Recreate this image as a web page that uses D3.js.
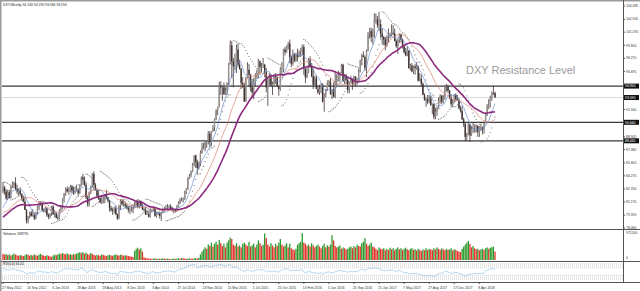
<!DOCTYPE html>
<html>
<head>
<meta charset="utf-8">
<script src="https://cdn.jsdelivr.net/npm/d3@7"></script>
<style>
  body { margin: 0; background: #fff; }
  svg { display: block; }
  text { font-family: "Liberation Sans", Arial, sans-serif; }
</style>
</head>
<body>
<svg id="chart" width="640" height="291"></svg>
<script>
// closes before the first visible bar, only used to warm up the averages / RSI
var preCloses = [78.8,77.2,77.1,75.7,76.9,77.3,77.9,79.5,78.2,78.6,80.0,79.9,80.2,81.0,81.5,80.5,79.6,79.0,79.0,79.3,78.4,79.6,79.6,80.2,79.3,78.9,79.8,79.6,79.3,78.9,79.2,80.3,81.4,82.4];

// weekly bars from 27 May 2012
var opens = [
  82.4,82.9,82.4,81.6,82.3,81.6,83.0,83.2,83.4,82.7,82.4,82.5,82.1,81.6,81.2,80.2,78.9,79.4,79.9,79.5,79.6,79.2,79.9,80.6,81.0,81.0,80.2,80.1,80.4,79.6,79.4,79.8,
  80.6,79.7,79.8,79.3,79.2,80.2,80.4,81.5,82.2,82.7,82.4,82.5,83.0,82.5,82.3,82.5,82.6,82.2,83.2,84.1,83.8,83.2,81.7,80.9,82.3,83.1,84.5,83.2,82.6,81.9,81.6,81.1,81.4,81.4,82.1,81.7,81.3,80.4,80.2,80.1,80.4,79.7,79.2,80.7,81.3,80.9,80.9,80.7,80.4,80.2,80.2,80.2,
  80.6,80.7,81.2,80.6,81.3,80.7,80.3,80.2,79.7,79.7,79.4,80.1,80.2,80.4,79.5,79.8,79.8,79.5,79.9,80.1,80.4,80.4,80.5,80.6,80.4,80.2,80.2,80.1,80.6,81.0,81.4,81.4,81.5,82.3,82.7,84.0,84.3,84.8,85.6,86.7,85.9,85.2,85.8,87.0,87.6,87.6,88.3,88.4,89.3,88.3,89.6,90.0,
  91.0,92.1,92.5,95.0,94.8,94.8,94.0,94.4,95.3,97.6,99.8,97.9,97.3,97.4,99.3,97.5,97.0,95.3,94.8,93.1,96.0,96.9,96.3,94.8,94.2,95.4,96.0,96.1,97.9,97.2,97.4,97.5,96.6,94.8,95.8,96.2,95.0,95.2,96.2,96.0,94.9,94.6,96.9,96.9,99.3,99.0,99.6,100.0,98.4,97.6,98.7,98.0,
  98.7,98.4,99.0,99.5,99.6,97.0,96.0,96.6,98.1,97.3,96.1,95.1,95.9,94.6,94.2,94.6,95.1,93.1,93.9,94.6,95.3,95.5,94.0,94.5,93.7,95.6,95.6,96.2,96.6,97.5,95.5,96.2,95.7,94.5,95.5,95.8,95.2,96.1,95.5,95.4,96.6,98.0,98.6,98.4,97.1,99.1,101.2,101.5,100.8,101.5,102.9,102.9,
  102.2,102.3,101.2,100.8,100.5,99.8,100.8,100.9,101.1,101.3,101.2,100.3,99.7,100.4,101.1,100.5,99.7,99.0,98.6,99.2,97.1,97.4,96.7,97.3,97.1,97.3,95.6,95.8,95.2,93.9,93.3,93.4,93.1,93.5,92.7,92.8,91.3,91.9,92.2,93.1,93.8,93.1,93.7,94.9,94.9,94.4,93.6,92.8,93.0,93.9,93.4,93.3,92.3,
  92.0,91.0,90.5,88.9,89.2,90.4,89.1,89.9,90.0,90.1,90.2,89.5,90.1,90.1,89.8,90.5,91.5,92.6,92.6,93.7,94.2,94.13
];
var highs = [
  83.5,83.1,82.7,82.6,82.6,83.2,83.6,83.6,84.1,83.2,82.8,82.9,82.2,81.9,81.8,80.3,79.5,80.0,80.1,80.3,79.9,80.0,80.7,81.2,81.2,81.1,80.4,80.6,80.5,79.8,79.8,80.7,
  80.8,80.2,80.0,79.6,80.3,80.8,81.6,82.2,82.9,83.0,82.9,83.2,83.2,83.0,83.0,83.2,82.8,83.2,84.2,84.5,84.2,83.5,81.9,82.4,83.1,84.6,84.8,83.4,82.7,82.6,81.7,82.0,81.9,82.1,82.6,81.8,81.4,80.7,80.5,80.6,80.7,79.8,80.8,81.5,81.5,81.4,81.2,81.0,80.7,80.7,80.6,80.9,
  81.2,81.4,81.5,81.4,81.3,81.0,80.5,80.6,80.2,80.1,80.4,80.3,80.6,80.5,80.0,80.0,80.0,80.0,80.4,80.5,80.8,80.9,80.8,80.9,80.6,80.4,80.3,80.8,81.2,81.6,81.7,81.7,82.5,82.8,84.1,84.5,84.9,85.8,86.7,86.8,86.2,86.0,87.3,88.2,88.2,88.4,88.4,89.6,89.6,89.6,90.3,91.1,
  92.2,92.5,95.5,95.5,94.9,95.4,94.8,95.4,97.7,100.4,100.3,98.3,98.8,99.9,100.0,98.1,97.1,96.0,95.3,96.0,97.8,97.6,96.4,95.8,95.9,96.5,96.9,98.2,98.0,97.7,98.3,97.6,97.1,96.0,96.5,96.4,95.5,96.4,96.5,96.1,95.0,97.2,97.8,99.4,99.6,99.8,100.2,100.5,98.6,99.3,98.9,98.9,
  99.4,99.2,99.5,99.9,99.9,97.1,97.3,98.3,98.5,97.7,97.1,96.2,96.2,95.0,95.1,95.3,95.3,94.1,94.6,95.5,95.7,95.9,94.6,95.4,96.7,96.4,96.8,96.6,97.6,97.6,96.4,96.4,96.1,95.5,96.2,95.9,96.2,96.1,95.9,97.0,98.1,98.8,99.1,98.6,99.3,101.4,101.9,101.9,101.8,103.6,103.6,103.3,
  103.8,102.9,101.8,100.9,100.8,101.0,101.8,101.3,102.3,102.2,101.8,100.5,100.6,101.2,101.2,100.6,99.8,99.5,99.7,99.2,97.6,97.7,97.4,97.6,97.8,97.4,96.5,96.3,95.4,94.1,93.6,93.9,93.9,93.8,92.9,92.9,92.4,92.5,93.6,94.0,93.9,93.9,95.0,95.2,95.1,94.5,94.0,93.4,94.0,94.1,93.9,93.5,92.6,
  92.6,91.2,90.5,89.4,90.6,90.4,90.2,90.6,90.4,90.4,90.3,90.2,90.5,90.1,90.6,91.8,92.8,93.4,93.8,94.3,95.0,94.29
];
var lows = [
  82.2,82.0,81.4,81.4,81.6,81.6,82.8,82.8,82.6,82.1,81.9,82.0,81.3,81.1,80.2,78.6,78.6,79.2,79.4,79.4,79.0,79.1,79.7,80.2,80.7,80.0,79.9,79.9,79.4,79.1,79.2,79.5,
  79.6,79.3,79.2,79.0,79.1,80.0,80.3,81.1,81.9,82.3,82.0,82.3,82.2,82.0,82.1,82.4,81.8,82.1,83.0,83.2,83.1,81.5,80.6,80.6,82.1,82.9,82.5,82.5,81.6,81.4,81.0,80.9,81.0,81.0,81.5,81.1,80.0,80.0,79.6,79.8,79.6,79.0,79.1,80.2,80.7,80.6,80.4,80.3,79.9,79.7,80.0,79.8,
  80.4,80.6,80.4,80.4,80.6,80.2,80.0,79.6,79.6,79.3,79.3,79.9,80.1,79.4,79.3,79.6,79.2,78.9,79.8,80.0,80.3,80.2,80.4,80.2,80.0,79.8,79.9,80.0,80.5,80.9,81.2,81.1,81.4,82.1,82.6,83.9,84.1,84.7,85.4,85.2,84.5,85.0,85.4,86.9,87.4,87.2,87.6,88.0,87.6,87.8,89.5,89.6,
  90.9,91.5,92.4,93.9,93.2,93.9,93.9,93.9,95.1,97.5,95.9,94.8,96.9,96.5,97.2,96.9,94.6,94.8,93.1,93.1,95.9,94.9,94.3,93.5,93.4,94.9,95.8,95.9,96.3,96.6,97.1,96.0,94.2,92.6,95.1,94.9,93.9,95.0,95.2,94.9,93.8,94.4,96.2,96.6,98.6,98.9,99.3,97.7,97.2,97.4,97.8,97.8,
  97.9,98.4,98.4,98.6,96.3,95.3,95.9,96.5,97.1,96.0,94.6,95.0,94.6,94.0,93.9,94.1,93.0,91.9,93.6,94.4,94.9,93.9,93.4,93.6,93.5,95.0,95.5,95.4,96.5,95.5,95.2,95.2,94.1,94.1,95.3,94.5,95.0,94.9,95.1,95.4,96.6,97.4,98.4,96.8,96.0,99.1,100.6,100.2,99.9,100.7,102.4,101.9,
  101.5,100.7,99.9,99.8,99.2,99.6,100.1,100.6,100.9,101.0,100.3,99.5,98.8,100.1,100.1,99.4,98.8,98.5,98.5,97.0,96.8,96.6,96.4,96.3,96.9,95.5,95.5,94.9,93.9,93.2,92.5,92.8,92.9,92.6,91.6,91.0,91.0,91.4,92.2,92.9,92.8,92.9,93.3,94.3,94.1,93.4,92.5,92.5,92.9,93.1,93.2,92.2,91.8,
  90.9,90.1,88.4,88.4,89.1,88.3,89.0,89.4,89.4,89.4,88.9,88.9,89.6,89.2,89.3,90.5,91.4,92.2,92.4,93.2,93.9,93.58
];
var closes = [
  82.9,82.4,81.6,82.3,81.6,83.0,83.2,83.4,82.7,82.4,82.5,82.1,81.6,81.2,80.2,78.9,79.4,79.9,79.5,79.6,79.2,79.9,80.6,81.0,81.0,80.2,80.1,80.4,79.6,79.4,79.8,80.6,
  79.7,79.8,79.3,79.2,80.2,80.4,81.5,82.2,82.7,82.4,82.5,83.0,82.5,82.3,82.5,82.6,82.2,83.2,84.1,83.8,83.2,81.7,80.9,82.3,83.1,84.5,83.2,82.6,81.9,81.6,81.1,81.4,81.4,82.1,81.7,81.3,80.4,80.2,80.1,80.4,79.7,79.2,80.7,81.3,80.9,80.9,80.7,80.4,80.2,80.2,80.2,80.6,
  80.7,81.2,80.6,81.3,80.7,80.3,80.2,79.7,79.7,79.4,80.1,80.2,80.4,79.5,79.8,79.8,79.5,79.9,80.1,80.4,80.4,80.5,80.6,80.4,80.2,80.2,80.1,80.6,81.0,81.4,81.4,81.5,82.3,82.7,84.0,84.3,84.8,85.6,86.7,85.9,85.2,85.8,87.0,87.6,87.6,88.3,88.4,89.3,88.3,89.6,90.0,91.0,
  92.1,92.5,95.0,94.8,94.8,94.0,94.4,95.3,97.6,99.8,97.9,97.3,97.4,99.3,97.5,97.0,95.3,94.8,93.1,96.0,96.9,96.3,94.8,94.2,95.4,96.0,96.1,97.9,97.2,97.4,97.5,96.6,94.8,95.8,96.2,95.0,95.2,96.2,96.0,94.9,94.6,96.9,96.9,99.3,99.0,99.6,100.0,98.4,97.6,98.7,98.0,98.7,
  98.4,99.0,99.5,99.6,97.0,96.0,96.6,98.1,97.3,96.1,95.1,95.9,94.6,94.2,94.6,95.1,93.1,93.9,94.6,95.3,95.5,94.0,94.5,93.7,95.6,95.6,96.2,96.6,97.5,95.5,96.2,95.7,94.5,95.5,95.8,95.2,96.1,95.5,95.4,96.6,98.0,98.6,98.4,97.1,99.1,101.2,101.5,100.8,101.5,102.9,102.9,102.2,
  102.3,101.2,100.8,100.5,99.8,100.8,100.9,101.1,101.3,101.2,100.3,99.7,100.4,101.1,100.5,99.7,99.0,98.6,99.2,97.1,97.4,96.7,97.3,97.1,97.3,95.6,95.8,95.2,93.9,93.3,93.4,93.1,93.5,92.7,92.8,91.3,91.9,92.2,93.1,93.8,93.1,93.7,94.9,94.9,94.4,93.6,92.8,93.0,93.9,93.4,93.3,92.3,92.0,
  91.0,90.5,88.9,89.2,90.4,89.1,89.9,90.0,90.1,90.2,89.5,90.1,90.1,89.8,90.5,91.5,92.6,92.6,93.7,94.2,94.2,93.59
];
// tick volume, in % of the volume scale
var volumes = [
  22,19,21,17,20,16,18,23,19,17,15,18,16,14,17,21,19,15,18,16,20,17,15,19,22,18,16,14,17,15,13,11,
  16,19,17,20,23,21,25,22,20,24,19,21,18,22,20,23,25,28,24,28,23,26,21,19,25,22,18,16,19,17,15,20,18,16,14,17,19,16,15,18,20,17,16,19,18,15,17,16,14,13,12,11,
  32,40,44,37,42,30,10,7,6,5,5,4,5,6,4,5,4,5,6,5,4,5,4,3,4,5,4,5,6,5,7,6,5,4,5,6,5,4,6,7,5,8,20,30,38,45,40,55,50,62,48,58,
  65,55,72,60,50,58,45,62,70,80,75,55,50,60,48,52,45,58,62,55,50,65,48,52,58,45,55,70,60,50,55,95,78,55,48,60,52,45,58,50,62,75,55,48,52,60,45,58,42,38,35,40,
  55,60,65,96,62,58,50,55,48,60,52,45,50,55,48,42,50,58,45,52,48,55,88,70,50,45,48,52,40,45,42,38,40,45,48,42,50,45,55,50,48,60,65,78,58,50,55,62,48,45,40,35,
  45,40,38,42,35,40,36,44,38,42,35,40,45,38,42,36,40,44,38,35,40,42,36,38,34,40,36,32,38,35,42,36,40,38,35,42,38,45,40,36,42,38,35,40,36,38,42,34,38,36,32,30,28,
  40,48,55,62,68,58,45,50,42,38,40,35,38,40,36,42,45,40,44,46,48,30
];

var dateLabels = ["27 May 2012","16 Sep 2012","6 Jan 2013","28 Apr 2013","18 Aug 2013","8 Dec 2013","6 Apr 2014","27 Jul 2014","23 Nov 2014","15 Mar 2015","5 Jul 2015","25 Oct 2015","14 Feb 2016","5 Jun 2016","25 Sep 2016","15 Jan 2017","7 May 2017","27 Aug 2017","17 Dec 2017","8 Apr 2018"];
var priceTicks = [104.485,102.905,101.370,99.800,98.270,96.695,92.160,88.905,87.380,85.800,84.270,82.700,81.170,79.590,78.060];
var levels = [94.950, 90.640, 88.440];
var lastPrice = 93.590;
var title = "DXY,Weekly  94.130 94.290 93.580 93.590";

var svg = d3.select("#chart"),
  n = closes.length,
  off = preCloses.length,
  allC = preCloses.concat(closes);

var x = d3.scaleLinear().domain([0, n - 1]).range([3, 495]);
var y = d3.scaleLinear().domain([78.060, 104.485]).range([228, 6]);
var yv = d3.scaleLinear().domain([0, 100]).range([260, 232]);
var yr = d3.scaleLinear().domain([0, 100]).range([281, 262]);

// moving averages on closes
function sma(p) {
  return closes.map(function(d, i) {
    var j = i + off, s = 0;
    for (var k = j - p + 1; k <= j; k++) s += allC[k];
    return s / p;
  });
}

// Wilder RSI
function rsi(p) {
  var ag = 0, al = 0, out = [];
  for (var k = 1; k <= p; k++) {
    var ch = allC[k] - allC[k-1];
    if (ch > 0) ag += ch; else al -= ch;
  }
  ag /= p; al /= p;
  for (var k = p + 1; k < allC.length; k++) {
    var ch = allC[k] - allC[k-1];
    ag = (ag * (p - 1) + Math.max(ch, 0)) / p;
    al = (al * (p - 1) + Math.max(-ch, 0)) / p;
    if (k >= off) out.push(100 - 100 / (1 + ag / al));
  }
  return out;
}

// parabolic SAR
function psar(step, maxAf) {
  var up = false, af = step, ep = lows[0], s = highs[0], out = [s];
  for (var i = 1; i < n; i++) {
    s = s + af * (ep - s);
    if (up) {
      s = Math.min(s, lows[i-1], lows[Math.max(i-2, 0)]);
      if (lows[i] < s) { up = false; s = ep; ep = lows[i]; af = step; }
      else if (highs[i] > ep) { ep = highs[i]; af = Math.min(af + step, maxAf); }
    } else {
      s = Math.max(s, highs[i-1], highs[Math.max(i-2, 0)]);
      if (highs[i] > s) { up = true; s = ep; ep = highs[i]; af = step; }
      else if (lows[i] < ep) { ep = lows[i]; af = Math.min(af + step, maxAf); }
    }
    out.push(s);
  }
  return out;
}

svg.append("rect").attr("width", 640).attr("height", 291).attr("fill", "#fff");

// frame
var frame = svg.append("g").attr("stroke", "#9a9a9a").attr("fill", "none");
frame.append("line").attr("x1", 0.5).attr("x2", 0.5).attr("y1", 0).attr("y2", 291).attr("stroke-width", 2);
frame.append("line").attr("x1", 0).attr("x2", 640).attr("y1", 0.5).attr("y2", 0.5).attr("stroke-width", 2);
frame.append("line").attr("x1", 623.5).attr("x2", 623.5).attr("y1", 0).attr("y2", 282).attr("stroke", "#555");
[229.5, 261.5, 282.5].forEach(function(v) {
  frame.append("line").attr("x1", 1).attr("x2", 640).attr("y1", v).attr("y2", v).attr("stroke", "#555");
});

var plot = svg.append("g");

// levels
plot.append("line").attr("x1", 2).attr("x2", 623).attr("y1", y(lastPrice)).attr("y2", y(lastPrice))
  .attr("stroke", "#cfcfcf").attr("stroke-width", 0.8);
levels.forEach(function(v) {
  plot.append("line").attr("x1", 2).attr("x2", 623).attr("y1", y(v)).attr("y2", y(v))
    .attr("stroke", "#3a3a3a").attr("stroke-width", 1.2);
});

// SAR dots
var sar = psar(0.02, 0.2);
plot.append("g").selectAll("rect").data(sar).enter().append("rect")
  .attr("x", function(d, i) { return x(i) - 0.5; })
  .attr("y", function(d) { return y(d) - 0.5; })
  .attr("width", 1).attr("height", 1).attr("fill", "#7a7a7a");

// candles
var cg = plot.append("g");
closes.forEach(function(c, i) {
  var o = opens[i], up = c >= o;
  cg.append("line").attr("x1", x(i)).attr("x2", x(i))
    .attr("y1", y(highs[i])).attr("y2", y(lows[i]))
    .attr("stroke", "#3f3333").attr("stroke-width", 0.8);
  cg.append("rect").attr("x", x(i) - 0.7).attr("width", 1.4)
    .attr("y", y(Math.max(o, c))).attr("height", Math.max(0.6, Math.abs(y(o) - y(c))))
    .attr("fill", up ? "#998f8f" : "#3d3030");
});

// moving averages
var line = d3.line().x(function(d, i) { return x(i); }).y(function(d) { return y(d); });
[{p: 8, c: "#6d8fd0", w: 0.7}, {p: 21, c: "#d8826f", w: 0.7}, {p: 34, c: "#8c2a7e", w: 1.6}].forEach(function(m) {
  plot.append("path").datum(sma(m.p)).attr("d", line)
    .attr("fill", "none").attr("stroke", m.c).attr("stroke-width", m.w);
});

// annotation
svg.append("text").attr("x", 466).attr("y", 74).attr("font-size", 11).attr("fill", "#9a9a9a")
  .text("DXY Resistance Level");
svg.append("text").attr("x", 3).attr("y", 6).attr("font-size", 3.4).attr("fill", "#222").text(title);

// price axis
var ax = svg.append("g");
priceTicks.forEach(function(v) {
  ax.append("line").attr("x1", 623).attr("x2", 625).attr("y1", y(v)).attr("y2", y(v)).attr("stroke", "#555");
  ax.append("text").attr("x", 626).attr("y", y(v) + 1.2).attr("font-size", 3.4).attr("fill", "#333")
    .text(v.toFixed(3));
});
levels.concat([lastPrice]).forEach(function(v) {
  ax.append("rect").attr("x", 624).attr("y", y(v) - 2.5).attr("width", 15).attr("height", 5).attr("fill", "#111");
  ax.append("text").attr("x", 625).attr("y", y(v) + 1.2).attr("font-size", 3.4).attr("fill", "#fff")
    .text(v.toFixed(3));
});

// volumes, green when volume rises
var vg = svg.append("g");
volumes.forEach(function(v, i) {
  vg.append("rect").attr("x", x(i) - 0.65).attr("width", 1.3)
    .attr("y", yv(v)).attr("height", yv(0) - yv(v))
    .attr("fill", i > 0 && v > volumes[i-1] ? "#2f9b2f" : "#e0342b");
});
svg.append("text").attr("x", 3).attr("y", 235).attr("font-size", 3.4).attr("fill", "#222").text("Volumes 188795");
svg.append("text").attr("x", 626).attr("y", 234).attr("font-size", 3.4).attr("fill", "#333").text("972160");
svg.append("text").attr("x", 626).attr("y", 259).attr("font-size", 3.4).attr("fill", "#333").text("0");

// RSI pane
var rg = svg.append("g");
[90, 80, 70, 30, 20, 10].forEach(function(l) {
  rg.append("line").attr("x1", 2).attr("x2", 623).attr("y1", yr(l)).attr("y2", yr(l))
    .attr("stroke", "#9a9a9a").attr("stroke-width", 0.6).attr("stroke-dasharray", "0.8,1.2");
});
var rline = d3.line().x(function(d, i) { return x(i); }).y(function(d) { return yr(d); });
rg.append("path").datum(rsi(14)).attr("d", rline).attr("fill", "none").attr("stroke", "#8fc3e6").attr("stroke-width", 0.7);
svg.append("text").attr("x", 3).attr("y", 265).attr("font-size", 3.4).attr("fill", "#222").text("RSI(14) 66.41");

// date axis
dateLabels.forEach(function(t, k) {
  var xi = x(k * 16);
  svg.append("line").attr("x1", xi).attr("x2", xi).attr("y1", 282).attr("y2", 284).attr("stroke", "#555");
  svg.append("text").attr("x", xi - 1).attr("y", 288.5).attr("font-size", 3.4).attr("fill", "#333").text(t);
});
</script>
</body>
</html>
